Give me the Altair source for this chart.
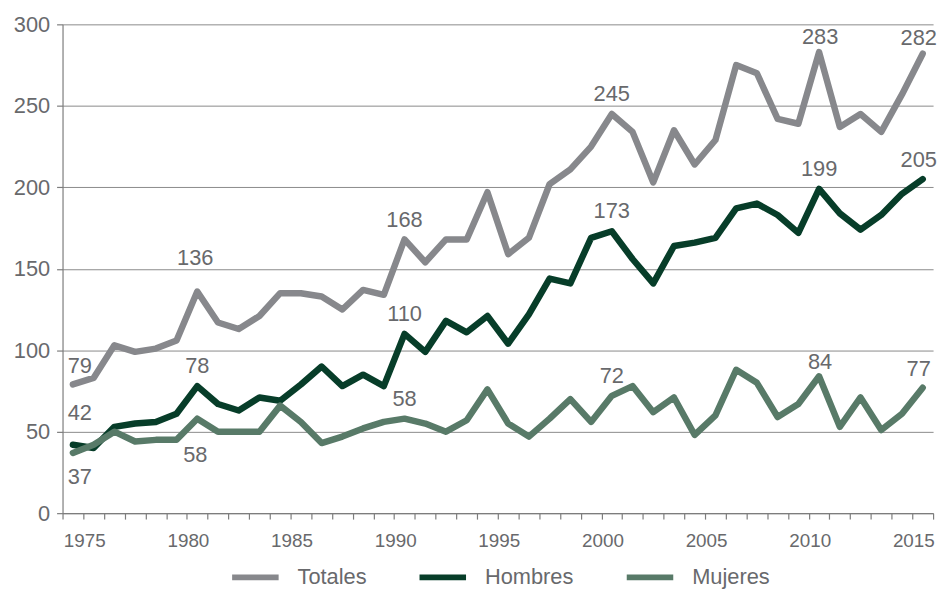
import altair as alt
import pandas as pd

years = list(range(1974, 2016))
series = ["Totales", "Hombres", "Mujeres"]
colors = ["#87888c", "#073d29", "#587a68"]

totales = [79, 83, 103, 99, 101, 106, 136, 117, 113, 121, 135, 135, 133, 125, 137, 134,
           168, 154, 168, 168, 197, 159, 169, 202, 211, 225, 245, 234, 203, 235, 214, 229,
           275, 270, 242, 239, 283, 237, 245, 234, 257, 282]
hombres = [42, 40, 53, 55, 56, 61, 78, 67, 63, 71, 69, 79, 90, 78, 85, 78,
           110, 99, 118, 111, 121, 104, 122, 144, 141, 169, 173, 156, 141, 164, 166, 169,
           187, 190, 183, 172, 199, 184, 174, 183, 196, 205]
mujeres = [37, 42, 50, 44, 45, 45, 58, 50, 50, 50, 66, 56, 43, 47, 52, 56,
           58, 55, 50, 57, 76, 55, 47, 58, 70, 56, 72, 78, 62, 71, 48, 60,
           88, 80, 59, 67, 84, 53, 71, 51, 61, 77]

label_years = [1974, 1980, 1990, 2000, 2010, 2015]
tick_years = [1975, 1980, 1985, 1990, 1995, 2000, 2005, 2010, 2015]
y_ticks = [0, 50, 100, 150, 200, 250, 300]

values = {"Totales": totales, "Hombres": hombres, "Mujeres": mujeres}
rows = []
for s in series:
    for yr, v in zip(years, values[s]):
        rows.append({"year": yr, "serie": s, "value": v})
df = pd.DataFrame(rows)

FONT = "Liberation Sans"
TEXT = "#68696c"

x_scale = alt.Scale(domain=[years[0] - 0.5, years[-1] + 0.5], nice=False, zero=False)
y_scale = alt.Scale(domain=[0, 300], nice=False, zero=True)

x_enc = alt.X(
    "year:Q",
    scale=x_scale,
    axis=alt.Axis(
        values=[y - 0.5 for y in years] + [years[-1] + 0.5],
        labelExpr="indexof(" + str(tick_years) + ", datum.value + 0.5) >= 0 ? toString(datum.value + 0.5) : ''",
        labelOverlap=False,
        labelFlush=False,
        labelOffset=1,
        grid=False,
        tickSize=6,
        labelPadding=13,
        labelFontSize=19,
        title=None,
    ),
)
y_enc = alt.Y(
    "value:Q",
    scale=y_scale,
    axis=alt.Axis(
        values=y_ticks,
        grid=True,
        tickSize=6,
        labelPadding=7,
        labelFontSize=22,
        title=None,
    ),
)

color = alt.Color(
    "serie:N",
    scale=alt.Scale(domain=series, range=colors),
    legend=alt.Legend(
        title=None,
        orient="none",
        direction="horizontal",
        legendX=168,
        legendY=531,
        symbolType="stroke",
        symbolSize=2200,
        symbolStrokeWidth=6,
        symbolOpacity=1,
        labelFontSize=22,
        labelFont=FONT,
        labelColor=TEXT,
        labelOffset=16,
        columnPadding=41,
    ),
)

lines = alt.Chart(df).mark_line(
    strokeWidth=6.5, strokeCap="round", strokeJoin="round"
).encode(x=x_enc, y=y_enc, color=color)

# label placements (dx, dy) for the annotated values
default_place = (0, -20)
placements = {
    ("Totales", 1974): (7, -19),
    ("Hombres", 1974): (7, -32),
    ("Mujeres", 1974): (7, 24),
    ("Totales", 1980): (-2, -34),
    ("Mujeres", 1980): (-2, 37),
    ("Totales", 2010): (1, -15),
    ("Mujeres", 2010): (1, -14),
    ("Totales", 2015): (-4, -16),
    ("Hombres", 2015): (-4, -19),
    ("Mujeres", 2015): (-4, -19),
}

lab = df[df["year"].isin(label_years)].copy()
groups = {}
for _, r in lab.iterrows():
    key = placements.get((r["serie"], r["year"]), default_place)
    groups.setdefault(key, []).append(r)

label_layers = []
for (dx, dy), rs in groups.items():
    sub = pd.DataFrame(rs)
    label_layers.append(
        alt.Chart(sub).mark_text(
            font=FONT, fontSize=22, color=TEXT, align="center", baseline="middle",
            dx=dx, dy=dy,
        ).encode(x=x_enc, y=y_enc, text="value:Q")
    )

chart = alt.layer(lines, *label_layers).properties(
    width=878,
    height=493,
    padding={"left": 55, "top": 14, "right": 9, "bottom": 75},
    autosize=alt.AutoSizeParams(type="none"),
).configure_view(stroke=None).configure_axis(
    labelFont=FONT,
    labelColor=TEXT,
    domainColor="#7d7d7d",
    tickColor="#7d7d7d",
    gridColor="#8a8a8a",
    gridWidth=1,
    domainWidth=1.2,
    tickWidth=1.2,
)

chart.save("out.html", embed_options={"renderer": "svg", "actions": False})
